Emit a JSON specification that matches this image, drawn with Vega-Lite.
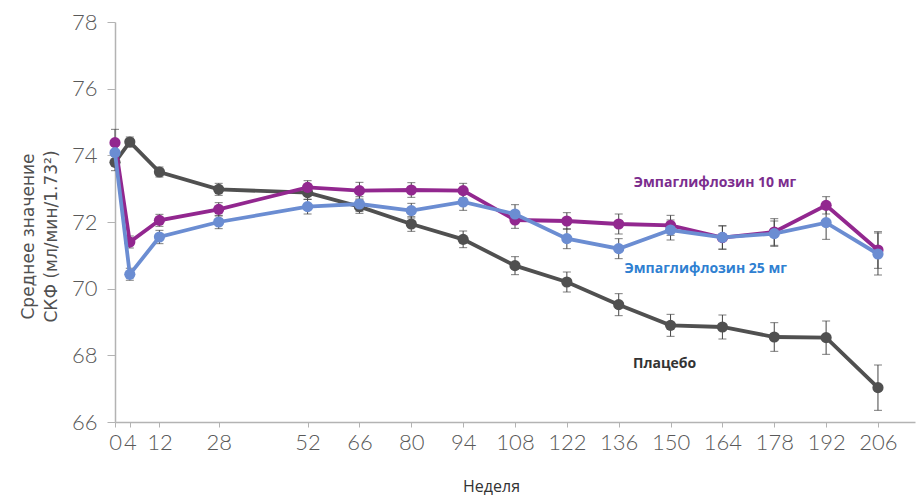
{
  "$schema": "https://vega.github.io/schema/vega-lite/v6.json",
  "width": 800,
  "height": 400,
  "autosize": {"type": "none"},
  "padding": {"left": 115, "top": 22, "right": 2, "bottom": 75},
  "background": "white",
  "config": {"view": {"stroke": null}},
  "datasets": {
    "gfr": [
      {"week": 0, "series": "Плацебо", "gfr": 73.79, "lo": 73.54, "hi": 74.04},
      {"week": 4, "series": "Плацебо", "gfr": 74.4, "lo": 74.25, "hi": 74.55},
      {"week": 12, "series": "Плацебо", "gfr": 73.5, "lo": 73.35, "hi": 73.65},
      {"week": 28, "series": "Плацебо", "gfr": 72.98, "lo": 72.8, "hi": 73.16},
      {"week": 52, "series": "Плацебо", "gfr": 72.88, "lo": 72.68, "hi": 73.08},
      {"week": 66, "series": "Плацебо", "gfr": 72.46, "lo": 72.26, "hi": 72.66},
      {"week": 80, "series": "Плацебо", "gfr": 71.94, "lo": 71.72, "hi": 72.16},
      {"week": 94, "series": "Плацебо", "gfr": 71.48, "lo": 71.23, "hi": 71.73},
      {"week": 108, "series": "Плацебо", "gfr": 70.69, "lo": 70.42, "hi": 70.96},
      {"week": 122, "series": "Плацебо", "gfr": 70.2, "lo": 69.9, "hi": 70.5},
      {"week": 136, "series": "Плацебо", "gfr": 69.52, "lo": 69.19, "hi": 69.85},
      {"week": 150, "series": "Плацебо", "gfr": 68.9, "lo": 68.57, "hi": 69.23},
      {"week": 164, "series": "Плацебо", "gfr": 68.85, "lo": 68.49, "hi": 69.21},
      {"week": 178, "series": "Плацебо", "gfr": 68.55, "lo": 68.12, "hi": 68.98},
      {"week": 192, "series": "Плацебо", "gfr": 68.53, "lo": 68.03, "hi": 69.03},
      {"week": 206, "series": "Плацебо", "gfr": 67.03, "lo": 66.35, "hi": 67.71},
      {"week": 0, "series": "Эмпаглифлозин 10 мг", "gfr": 74.38, "lo": 73.98, "hi": 74.78},
      {"week": 4, "series": "Эмпаглифлозин 10 мг", "gfr": 71.4, "lo": 71.22, "hi": 71.58},
      {"week": 12, "series": "Эмпаглифлозин 10 мг", "gfr": 72.05, "lo": 71.87, "hi": 72.23},
      {"week": 28, "series": "Эмпаглифлозин 10 мг", "gfr": 72.38, "lo": 72.18, "hi": 72.58},
      {"week": 52, "series": "Эмпаглифлозин 10 мг", "gfr": 73.04, "lo": 72.84, "hi": 73.24},
      {"week": 66, "series": "Эмпаглифлозин 10 мг", "gfr": 72.94, "lo": 72.69, "hi": 73.19},
      {"week": 80, "series": "Эмпаглифлозин 10 мг", "gfr": 72.96, "lo": 72.74, "hi": 73.18},
      {"week": 94, "series": "Эмпаглифлозин 10 мг", "gfr": 72.94, "lo": 72.72, "hi": 73.16},
      {"week": 108, "series": "Эмпаглифлозин 10 мг", "gfr": 72.06, "lo": 71.81, "hi": 72.31},
      {"week": 122, "series": "Эмпаглифлозин 10 мг", "gfr": 72.03, "lo": 71.78, "hi": 72.28},
      {"week": 136, "series": "Эмпаглифлозин 10 мг", "gfr": 71.94, "lo": 71.64, "hi": 72.24},
      {"week": 150, "series": "Эмпаглифлозин 10 мг", "gfr": 71.9, "lo": 71.6, "hi": 72.2},
      {"week": 164, "series": "Эмпаглифлозин 10 мг", "gfr": 71.53, "lo": 71.18, "hi": 71.88},
      {"week": 178, "series": "Эмпаглифлозин 10 мг", "gfr": 71.7, "lo": 71.3, "hi": 72.1},
      {"week": 192, "series": "Эмпаглифлозин 10 мг", "gfr": 72.5, "lo": 72.24, "hi": 72.76},
      {"week": 206, "series": "Эмпаглифлозин 10 мг", "gfr": 71.16, "lo": 70.61, "hi": 71.71},
      {"week": 0, "series": "Эмпаглифлозин 25 мг", "gfr": 74.08, "lo": 73.78, "hi": 74.38},
      {"week": 4, "series": "Эмпаглифлозин 25 мг", "gfr": 70.43, "lo": 70.25, "hi": 70.61},
      {"week": 12, "series": "Эмпаглифлозин 25 мг", "gfr": 71.55, "lo": 71.35, "hi": 71.75},
      {"week": 28, "series": "Эмпаглифлозин 25 мг", "gfr": 72.0, "lo": 71.8, "hi": 72.2},
      {"week": 52, "series": "Эмпаглифлозин 25 мг", "gfr": 72.46, "lo": 72.24, "hi": 72.68},
      {"week": 66, "series": "Эмпаглифлозин 25 мг", "gfr": 72.54, "lo": 72.32, "hi": 72.76},
      {"week": 80, "series": "Эмпаглифлозин 25 мг", "gfr": 72.34, "lo": 72.12, "hi": 72.56},
      {"week": 94, "series": "Эмпаглифлозин 25 мг", "gfr": 72.6, "lo": 72.35, "hi": 72.85},
      {"week": 108, "series": "Эмпаглифлозин 25 мг", "gfr": 72.24, "lo": 71.96, "hi": 72.52},
      {"week": 122, "series": "Эмпаглифлозин 25 мг", "gfr": 71.5, "lo": 71.2, "hi": 71.8},
      {"week": 136, "series": "Эмпаглифлозин 25 мг", "gfr": 71.2, "lo": 70.9, "hi": 71.5},
      {"week": 150, "series": "Эмпаглифлозин 25 мг", "gfr": 71.76, "lo": 71.46, "hi": 72.06},
      {"week": 164, "series": "Эмпаглифлозин 25 мг", "gfr": 71.54, "lo": 71.19, "hi": 71.89},
      {"week": 178, "series": "Эмпаглифлозин 25 мг", "gfr": 71.65, "lo": 71.27, "hi": 72.03},
      {"week": 192, "series": "Эмпаглифлозин 25 мг", "gfr": 71.98, "lo": 71.48, "hi": 72.48},
      {"week": 206, "series": "Эмпаглифлозин 25 мг", "gfr": 71.04, "lo": 70.41, "hi": 71.67}
    ],
    "labels": [
      {"text": "Эмпаглифлозин 10 мг", "week": 162, "gfr": 73.18, "color": "#7B2D8E"},
      {"text": "Эмпаглифлозин 25 мг", "week": 159.5, "gfr": 70.6, "color": "#2F80D1"},
      {"text": "Плацебо", "week": 148.4, "gfr": 67.75, "color": "#333333"}
    ]
  },
  "layer": [
    {
      "data": {"name": "gfr"},
      "mark": {"type": "errorbar", "color": "#444444", "thickness": 1, "ticks": {"size": 8, "color": "#444444"}},
      "encoding": {
        "x": {"field": "week", "type": "quantitative",
          "scale": {"domain": [0, 216], "nice": false, "zero": false},
          "axis": {
            "title": "Неделя",
            "values": [0, 4, 12, 28, 52, 66, 80, 94, 108, 122, 136, 150, 164, 178, 192, 206],
            "grid": false, "tickSize": 5, "tickColor": "#b3b3b3", "domainColor": "#b3b3b3", "domainWidth": 1.5,
            "labelFont": "Lato", "labelFontWeight": 300, "labelFontSize": 22, "labelColor": "#595959",
            "labelPadding": 5, "labelFlush": false, "labelOverlap": false,
            "titleFont": "Open Sans", "titleFontSize": 16, "titleFontWeight": "normal", "titleColor": "#333333",
            "titleX": 376, "titleY": 64, "titleBaseline": "middle", "titleAlign": "center"
          }
        },
        "y": {"field": "lo", "type": "quantitative",
          "scale": {"domain": [66, 78], "nice": false, "zero": false},
          "axis": {
            "title": ["Среднее значение", "СКФ (мл/мин/1.73²)"],
            "values": [66, 68, 70, 72, 74, 76, 78],
            "grid": false, "tickSize": 8, "tickColor": "#b3b3b3", "domainColor": "#b3b3b3", "domainWidth": 1.5,
            "labelFont": "Lato", "labelFontWeight": 300, "labelFontSize": 22, "labelColor": "#595959",
            "labelPadding": 10,
            "titleFont": "DejaVu Sans", "titleFontWeight": "normal", "titleFontSize": 17, "titleColor": "#505050",
            "titleAngle": -90, "titleX": -87, "titleY": 214, "titleBaseline": "middle", "titleAlign": "center",
            "titleLineHeight": 23
          }
        },
        "y2": {"field": "hi"}
      }
    },
    {
      "data": {"name": "gfr"},
      "transform": [{"filter": "datum.series === 'Плацебо'"}],
      "mark": {"type": "line", "color": "#505050", "strokeWidth": 3.8, "point": {"filled": true, "size": 125, "color": "#505050"}},
      "encoding": {
        "x": {"field": "week", "type": "quantitative"},
        "y": {"field": "gfr", "type": "quantitative"}
      }
    },
    {
      "data": {"name": "gfr"},
      "transform": [{"filter": "datum.series === 'Эмпаглифлозин 10 мг'"}],
      "mark": {"type": "line", "color": "#92278F", "strokeWidth": 3.8, "point": {"filled": true, "size": 125, "color": "#92278F"}},
      "encoding": {
        "x": {"field": "week", "type": "quantitative"},
        "y": {"field": "gfr", "type": "quantitative"}
      }
    },
    {
      "data": {"name": "gfr"},
      "transform": [{"filter": "datum.series === 'Эмпаглифлозин 25 мг'"}],
      "mark": {"type": "line", "color": "#6B8DD2", "strokeWidth": 3.8, "point": {"filled": true, "size": 125, "color": "#6B8DD2"}},
      "encoding": {
        "x": {"field": "week", "type": "quantitative"},
        "y": {"field": "gfr", "type": "quantitative"}
      }
    },
    {
      "data": {"name": "labels"},
      "mark": {"type": "text", "font": "Open Sans", "fontWeight": "bold", "fontSize": 14, "align": "center", "baseline": "middle"},
      "encoding": {
        "x": {"field": "week", "type": "quantitative"},
        "y": {"field": "gfr", "type": "quantitative"},
        "text": {"field": "text"},
        "color": {"field": "color", "type": "nominal", "scale": null}
      }
    }
  ]
}
